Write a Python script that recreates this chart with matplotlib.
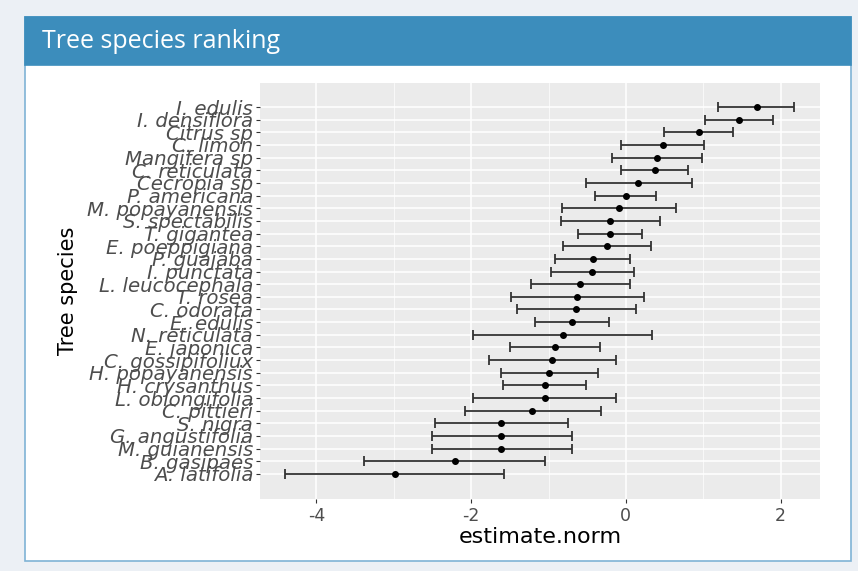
import matplotlib
matplotlib.use('Agg')
import matplotlib.pyplot as plt
from matplotlib.patches import Rectangle

# species from top of the chart to bottom
species = ['I. edulis', 'I. densiflora', 'Citrus sp', 'C. limon', 'Mangifera sp',
           'C. reticulata', 'Cecropia sp', 'P. americana', 'M. popayanensis',
           'S. spectabilis', 'T. gigantea', 'E. poeppigiana', 'P. guajaba',
           'I. punctata', 'L. leucocephala', 'T. rosea', 'C. odorata', 'E. edulis',
           'N. reticulata', 'E. japonica', 'C. gossipifoliux', 'H. popayanensis',
           'H. crysanthus', 'L. oblongifolia', 'C. pittieri', 'S. nigra',
           'G. angustifolia', 'M. guianensis', 'B. gasipaes', 'A. latifolia']
estimate = [1.69, 1.46, 0.95, 0.48, 0.40, 0.38, 0.16, 0.00, -0.09, -0.21,
            -0.21, -0.24, -0.42, -0.44, -0.59, -0.63, -0.64, -0.69, -0.81, -0.92,
            -0.95, -0.99, -1.05, -1.05, -1.21, -1.61, -1.61, -1.61, -2.21, -2.99]
lower = [1.19, 1.02, 0.49, -0.06, -0.18, -0.06, -0.51, -0.40, -0.83, -0.84,
         -0.62, -0.81, -0.91, -0.97, -1.23, -1.49, -1.41, -1.18, -1.97, -1.50,
         -1.77, -1.61, -1.59, -1.98, -2.08, -2.47, -2.51, -2.51, -3.39, -4.41]
upper = [2.18, 1.90, 1.39, 1.01, 0.99, 0.80, 0.85, 0.39, 0.65, 0.44,
         0.21, 0.33, 0.06, 0.11, 0.05, 0.23, 0.13, -0.22, 0.34, -0.34,
         -0.13, -0.36, -0.51, -0.13, -0.32, -0.75, -0.69, -0.69, -1.04, -1.57]
x_ticks = [-4, -2, 0, 2]

W, H = 858, 571
fig = plt.figure(figsize=(W / 100, H / 100), dpi=100)
fig.patch.set_facecolor('#ecf0f5')

# shiny box with blue header
fig.patches.append(Rectangle((25 / W, 1 - 561 / H), 826 / W, 544 / H,
                             transform=fig.transFigure, facecolor='white',
                             edgecolor='#7fb3d5', linewidth=1.2, zorder=-2))
fig.patches.append(Rectangle((25 / W, 1 - 65 / H), 826 / W, 48 / H,
                             transform=fig.transFigure, facecolor='#3c8dbc',
                             edgecolor='#3c8dbc', linewidth=1.2, zorder=-1))
fig.text(42 / W, 1 - 41 / H, 'Tree species ranking', color='white',
         fontsize=18, family='Open Sans', va='center', ha='left')

ax = fig.add_axes([260 / W, 1 - 499 / H, 560 / W, 416 / H])
ax.set_zorder(1)
ax.set_facecolor('#ebebeb')

n = len(species)
ypos = [n - 1 - i for i in range(n)]
xerr = [[e - l for e, l in zip(estimate, lower)],
        [u - e for e, u in zip(estimate, upper)]]
ax.errorbar(estimate, ypos, xerr=xerr, fmt='o', color='black', markersize=4,
            ecolor='#333333', elinewidth=1.3, capsize=3.6, capthick=1.3, zorder=3)

ax.set_xlim(-4.73, 2.51)
ax.set_ylim(-1.98, n - 1 + 1.9)
ax.set_xticks(x_ticks)
ax.set_xticklabels([str(t) for t in x_ticks])
ax.set_xticks([-3, -1, 1], minor=True)
ax.set_yticks(ypos)
ax.set_yticklabels(species, fontstyle='italic', family='DejaVu Sans')

ax.grid(True, which='major', color='white', linewidth=1.1, zorder=0)
ax.grid(True, which='minor', axis='x', color='white', linewidth=0.5, zorder=0)
ax.set_axisbelow(True)
for s in ax.spines.values():
    s.set_visible(False)
ax.tick_params(axis='both', which='major', colors='#333333', length=3,
               width=0.8, labelcolor='#4d4d4d')
ax.tick_params(axis='y', labelsize=14.2, pad=2)
ax.tick_params(axis='x', labelsize=12.5, pad=3)
ax.tick_params(which='minor', length=0)

ax.set_xlabel('estimate.norm', fontsize=16, color='black', labelpad=1)
ax.set_ylabel('Tree species', fontsize=15, color='black', labelpad=7)

fig.savefig('out.png', dpi=100, facecolor=fig.get_facecolor())
